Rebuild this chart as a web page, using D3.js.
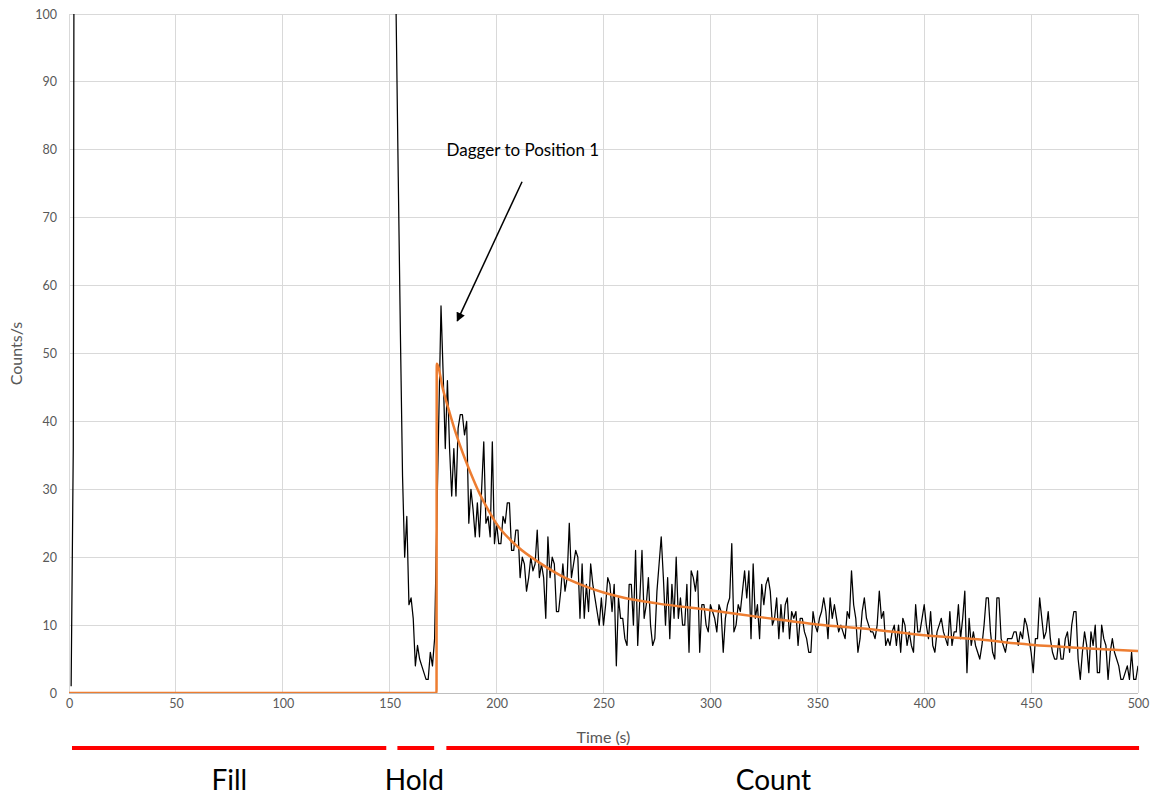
<!DOCTYPE html>
<html>
<head>
<meta charset="utf-8">
<script src="https://cdn.jsdelivr.net/npm/d3@7"></script>
<style>
  html, body { margin: 0; padding: 0; background: #fff; }
  svg { display: block; font-family: Lato, "Open Sans", sans-serif; }
</style>
</head>
<body>
<svg id="chart" width="1155" height="797"></svg>
<script>
// Detector count rate during one fill / hold / count cycle.

// Fill phase: rate rises immediately and stays above 100 counts/s
const fillTimes  = [1, 2, 3, 151];
const fillCounts = [1, 36, 260, 180];

// 1-second samples from t = 152 s to t = 500 s
const countStart = 152;
const counts = [
  140, 100, 76, 53, 32, 20, 26, 13, 14, 11,      // 152-161
  4, 7, 5, 4, 3, 2, 2, 6, 4, 8,                  // 162-171
  25, 41, 57, 47, 36, 46, 36, 29, 36, 29,        // 172-181
  39, 41, 41, 38, 40, 25, 30, 27, 23, 28,        // 182-191
  23, 30, 37, 25, 26, 23, 37, 22, 25, 22,        // 192-201
  22, 26, 25, 28, 28, 21, 21, 24, 24, 17,        // 202-211
  20, 19, 15, 17, 20, 18, 19, 24, 17, 19,        // 212-221
  17, 11, 23, 17, 20, 19, 12, 12, 15, 19,        // 222-231
  15, 17, 25, 17, 19, 21, 20, 11, 19, 11,        // 232-241
  16, 12, 19, 16, 14, 12, 10, 14, 10, 13,        // 242-251
  17, 16, 12, 16, 4, 14, 11, 11, 8, 7,           // 252-261
  16, 16, 10, 21, 7, 14, 21, 11, 13, 17,         // 262-271
  10, 7, 8, 15, 19, 23, 17, 10, 17, 8,           // 272-281
  16, 11, 20, 11, 14, 10, 10, 16, 6, 18,         // 282-291
  17, 15, 18, 6, 13, 13, 10, 9, 13, 12,          // 292-301
  11, 9, 13, 12, 6, 11, 13, 14, 22, 9,           // 302-311
  10, 13, 12, 15, 18, 14, 18, 8, 19, 11,         // 312-321
  13, 8, 16, 13, 16, 17, 15, 10, 11, 14,         // 322-331
  8, 13, 9, 13, 14, 8, 12, 11, 12, 7,            // 332-341
  11, 11, 9, 8, 6, 6, 12, 10, 9, 11,             // 342-351
  12, 14, 12, 8, 14, 11, 13, 11, 9, 10,          // 352-361
  9, 8, 12, 11, 18, 13, 11, 6, 8, 12,            // 362-371
  14, 11, 10, 9, 9, 8, 10, 15, 11, 12,           // 372-381
  7, 8, 7, 9, 10, 7, 10, 6, 11, 10,              // 382-391
  7, 9, 7, 6, 13, 9, 9, 11, 13, 10,              // 392-401
  8, 12, 7, 6, 9, 10, 11, 9, 8, 7,               // 402-411
  12, 7, 9, 9, 13, 8, 11, 15, 3, 11,             // 412-421
  7, 9, 7, 6, 5, 7, 10, 14, 14, 9,               // 422-431
  6, 5, 14, 14, 8, 7, 6, 8, 8, 8,                // 432-441
  9, 9, 7, 9, 8, 11, 10, 8, 6, 3,                // 442-451
  8, 8, 14, 11, 8, 9, 12, 8, 6, 5,               // 452-461
  5, 8, 5, 5, 8, 9, 6, 10, 12, 12,               // 462-471
  5, 2, 6, 9, 7, 3, 9, 7, 10, 3,                 // 472-481
  3, 10, 8, 7, 2, 6, 8, 6, 5, 4,                 // 482-491
  2, 2, 3, 4, 2, 6, 2, 2, 4                      // 492-500
];

// Decay fit (drawn in orange)
const fitTimes  = [0, 171.9, 172, 175, 178, 181, 184, 188, 192, 196, 200, 210, 220, 230, 240, 250,
                   260, 275, 300, 325, 350, 375, 400, 425, 450, 475, 500];
const fitCounts = [0, 0, 48.5, 44.6, 41.3, 38.2, 35.5, 32.3, 29.4, 27.0, 24.9, 21.5, 19.2, 17.3, 15.9, 14.8,
                   14.0, 13.2, 12.2, 11.1, 10.1, 9.4, 8.5, 7.9, 7.1, 6.6, 6.2];

// Axis ticks
const xTicks = [0, 50, 100, 150, 200, 250, 300, 350, 400, 450, 500];
const yTicks = [0, 10, 20, 30, 40, 50, 60, 70, 80, 90, 100];

// Cycle phases (time ranges and label positions, in seconds)
const phaseNames  = ["Fill", "Hold", "Count"];
const phaseStart  = [1.4, 153.6, 176.5];
const phaseEnd    = [148.4, 170.8, 500.5];
const phaseLabelT = [75, 161.5, 329.5];

// Annotation
const noteText = "Dagger to Position 1";
const noteAt   = [176.6, 80];            // [time, counts] of label start
const arrowFrom = [211.9, 75.3];
const arrowTo   = [181.6, 54.8];

const svg = d3.select("#chart");
const W = 1155, H = 797;
const m = { top: 14, right: 17, bottom: 104, left: 69 };

const x = d3.scaleLinear().domain([0, 500]).range([m.left, W - m.right]);
const y = d3.scaleLinear().domain([0, 100]).range([H - m.bottom, m.top]);

const gridColor = "#d9d9d9";
const textColor = "#595959";

// gridlines
svg.append("g").selectAll("line").data(yTicks).join("line")
  .attr("x1", x(0)).attr("x2", x(500))
  .attr("y1", d => y(d)).attr("y2", d => y(d))
  .attr("stroke", gridColor).attr("stroke-width", 1).attr("shape-rendering", "crispEdges");
svg.append("g").selectAll("line").data(xTicks).join("line")
  .attr("x1", d => x(d)).attr("x2", d => x(d))
  .attr("y1", y(0)).attr("y2", y(100))
  .attr("stroke", gridColor).attr("stroke-width", 1).attr("shape-rendering", "crispEdges");

// axes (labels only, Excel style)
const yAxis = svg.append("g").attr("transform", `translate(${m.left - 12},0)`)
  .call(d3.axisLeft(y).tickValues(yTicks).tickSize(0).tickPadding(0));
yAxis.select(".domain").remove();
yAxis.selectAll("text").attr("fill", textColor).attr("font-size", 12.5).attr("font-family", "Lato");

const xAxis = svg.append("g").attr("transform", `translate(0,${y(0) + 6})`)
  .call(d3.axisBottom(x).tickValues(xTicks).tickSize(0).tickPadding(0));
xAxis.select(".domain").remove();
xAxis.selectAll("text").attr("fill", textColor).attr("font-size", 12.5).attr("font-family", "Lato")
  .attr("dy", "0.71em");

// bottom axis line
svg.append("line")
  .attr("x1", x(0)).attr("x2", x(500)).attr("y1", y(0)).attr("y2", y(0))
  .attr("stroke", "#bfbfbf").attr("stroke-width", 1).attr("shape-rendering", "crispEdges");

// axis titles
svg.append("text").attr("x", (x(0) + x(500)) / 2).attr("y", 743)
  .attr("text-anchor", "middle").attr("font-size", 16).attr("fill", textColor).text("Time (s)");
svg.append("text").attr("transform", `translate(22,${(y(0) + y(100)) / 2}) rotate(-90)`)
  .attr("text-anchor", "middle").attr("font-size", 16).attr("fill", textColor).text("Counts/s");

// clip to plot area
svg.append("defs").append("clipPath").attr("id", "plot")
  .append("rect").attr("x", x(0)).attr("y", y(100)).attr("width", x(500) - x(0)).attr("height", y(0) - y(100));

// measured rate
const series = fillTimes.map((t, i) => [t, fillCounts[i]])
  .concat(counts.map((c, i) => [countStart + i, c]));

const line = d3.line().x(d => x(d[0])).y(d => y(d[1]));

svg.append("path").datum(series)
  .attr("clip-path", "url(#plot)")
  .attr("d", line)
  .attr("fill", "none").attr("stroke", "#000").attr("stroke-width", 1.25)
  .attr("stroke-linejoin", "round");

// fitted decay
const fit = fitTimes.map((t, i) => [t, fitCounts[i]]);
svg.append("path").datum(fit)
  .attr("clip-path", "url(#plot)")
  .attr("d", d3.line().x(d => x(d[0])).y(d => y(d[1])).curve(d3.curveMonotoneX))
  .attr("fill", "none").attr("stroke", "#ed7d31").attr("stroke-width", 2.5)
  .attr("stroke-linejoin", "round");

// annotation
svg.append("defs").append("marker").attr("id", "head")
  .attr("viewBox", "0 0 10 10").attr("refX", 9).attr("refY", 5)
  .attr("markerWidth", 10).attr("markerHeight", 9).attr("markerUnits", "userSpaceOnUse")
  .attr("orient", "auto")
  .append("path").attr("d", "M0,0 L10,5 L0,10 Z").attr("fill", "#000");

svg.append("line")
  .attr("x1", x(arrowFrom[0])).attr("y1", y(arrowFrom[1]))
  .attr("x2", x(arrowTo[0])).attr("y2", y(arrowTo[1]))
  .attr("stroke", "#000").attr("stroke-width", 1.5).attr("marker-end", "url(#head)");

svg.append("text").attr("x", x(noteAt[0])).attr("y", y(noteAt[1]) + 6)
  .attr("font-size", 17).attr("fill", "#000").text(noteText);

// phase bars and labels
const phases = phaseNames.map((n, i) => ({ n, s: phaseStart[i], e: phaseEnd[i], c: phaseLabelT[i] }));
svg.append("g").selectAll("line").data(phases).join("line")
  .attr("x1", d => x(d.s)).attr("x2", d => x(d.e))
  .attr("y1", 748).attr("y2", 748)
  .attr("stroke", "#ff0000").attr("stroke-width", 4);
svg.append("g").selectAll("text").data(phases).join("text")
  .attr("x", d => x(d.c)).attr("y", 790)
  .attr("text-anchor", "middle").attr("font-size", 28).attr("fill", "#000")
  .text(d => d.n);
</script>
</body>
</html>
